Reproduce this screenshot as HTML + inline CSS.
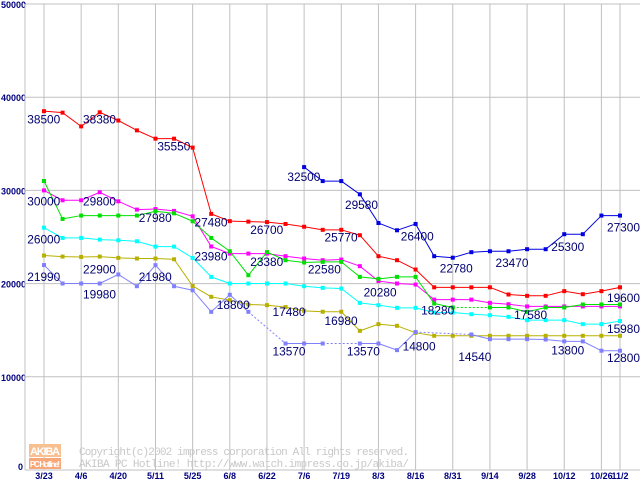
<!DOCTYPE html>
<html><head><meta charset="utf-8"><style>
body{margin:0;background:#fff;}
#c{position:absolute;left:0;top:0;}
</style></head><body>
<svg id="c" width="640" height="480" xmlns="http://www.w3.org/2000/svg" font-family="Liberation Sans, sans-serif">
<g id="grid"></g>
<g id="wm">
 <rect x="29" y="444" width="32" height="13" fill="#f8c090"/>
 <text x="30" y="455" font-size="11" font-weight="bold" fill="#fff" textLength="30">AKIBA</text>
 <rect x="29" y="458" width="32" height="11" fill="#f8a878"/>
 <text x="30" y="467" font-size="8" font-weight="bold" fill="#fff" textLength="30">PC Hotline!</text>
 <text x="79" y="455" font-size="11" fill="#c8c8c8" font-family="Liberation Mono, monospace" textLength="330">Copyright(c)2002 impress corporation All rights reserved.</text>
 <text x="79" y="467" font-size="11" fill="#c8c8c8" font-family="Liberation Mono, monospace" textLength="330">AKIBA PC Hotline!  http://www.watch.impress.co.jp/akiba/</text>
</g>
<g id="series"></g>
<g id="labels"></g>
</svg>
<script>
const xLabels=["3/23","4/6","4/20","5/11","5/25","6/8","6/22","7/6","7/19","8/3","8/16","8/31","9/14","9/28","10/12","10/26","11/2"];
const xLabelIdx=[0,2,4,6,8,10,12,14,16,18,20,22,24,26,28,30,31];
const yTicks=[0,10000,20000,30000,40000,50000];
const seriesColors=["#ff0000","#0000e0","#ff00ff","#00e000","#00ffff","#b8b000","#8080ff"];
const seriesNames=["red","blue","magenta","green","cyan","olive","lavender"];
const sRed=[38500,38340,36870,38380,37500,36440,35550,35550,34590,27480,26700,26650,26600,26400,26100,25770,25770,25190,22940,22510,21510,19600,19600,19600,19600,18830,18690,18690,19190,18860,19190,19600];
const sBlue=[null,null,null,null,null,null,null,null,null,null,null,null,null,null,32500,31000,31000,29580,26500,25720,26400,22940,22780,23370,23470,23470,23690,23690,25300,25300,27300,27300];
const sMagenta=[30000,28940,28940,29800,28830,27940,28000,27800,27220,23980,23220,23220,23220,22940,22690,22510,22580,21870,20280,20010,19900,18280,18280,18280,17930,17790,17550,17550,17550,17550,17550,17550];
const sGreen=[31010,26940,27300,27300,27300,27300,27760,27540,26690,24900,23470,20900,23380,22510,22260,22330,22330,20720,20510,20720,20720,17860,17440,null,17440,17440,16970,17440,17440,17760,17760,17760];
const sCyan=[26000,24900,24900,24720,24650,24540,23970,23970,22760,20720,20010,20010,20010,20010,19720,19540,19470,17930,17690,17400,17400,16900,16900,16720,16610,16430,16080,16080,16080,15650,15650,15980];
const sOlive=[23010,22900,22860,22900,22760,22690,22690,22610,19750,18580,18220,17760,17690,17480,17080,16980,16980,14930,15650,15470,14720,14400,14400,14400,14400,14400,14400,14400,14400,14400,14400,14400];
const sLav=[21990,20010,20010,20010,20980,19720,21980,19720,19290,16970,18800,16970,null,13570,13570,13570,null,13570,13570,12860,14800,null,null,14540,14040,14040,14040,14000,13800,13800,12800,12800];
const allSeries=[sRed,sBlue,sMagenta,sGreen,sCyan,sOlive,sLav];
const labelTexts=["38500","38380","35550","30000","29800","27980","27480","26000","22900","23980","26700","21990","21980","23380","32500","25770","22580","29580","20280","26400","19980","18800","17480","13570","16980","13570","14800","18280","14540","22780","23470","25300","27300","17580","19600","15980","13800","12800"];
const labelIdx=[-0.9,2.1,6.1,-0.9,2.1,5.1,8.1,-0.9,2.1,8.1,11.1,-0.9,5.1,11.1,13.1,15.1,14.2,16.2,17.2,19.2,2.1,9.3,12.3,12.3,15.1,16.3,19.3,20.3,22.3,21.3,24.3,27.3,30.3,25.3,30.3,30.3,27.3,30.3];
const labelVals=[37200,37200,34300,28400,28400,26600,26100,24300,21100,22500,25300,20300,20300,21900,31000,24500,21100,28000,18600,24600,18400,17300,16500,12300,15560,12300,12800,16700,11700,21200,21800,23500,25600,16200,18000,14700,12400,11600];
const X0=44,DX=18.58,Y0=470,YS=93.2/10000;
const sx=i=>X0+i*DX, sy=v=>Y0-v*YS;
const NS="http://www.w3.org/2000/svg";
function mk(t,a,p){const e=document.createElementNS(NS,t);for(const k in a)e.setAttribute(k,a[k]);p.appendChild(e);return e;}
const g=document.getElementById('grid');
yTicks.forEach(v=>{
 const l=mk('line',{x1:25,x2:640,y1:sy(v),y2:sy(v),stroke:'#c0c0c0','stroke-width':1},g);
 
 
 const t=mk('text',{x:v===0?18:1,y:sy(v)+(v===0?0:4),'font-size':9,'font-weight':'bold',fill:'#000080'},g);
 t.textContent=v;
 
 
});
const ax=mk('line',{x1:25,x2:25,y1:4,y2:470,stroke:'#c0c0c0','stroke-width':1},g);


xLabels.forEach((s,k)=>{
 const x=sx(xLabelIdx[k]);
 const l=mk('line',{x1:x,x2:x,y1:4,y2:470,stroke:'#c0c0c0','stroke-width':1},g);
 
 
 const t=mk('text',{x:x,y:479,'font-size':9,'font-weight':'bold',fill:'#000080','text-anchor':'middle'},g);
 t.textContent=s;
 
 
});
const sg=document.getElementById('series');
allSeries.forEach((d,si)=>{
 const c=seriesColors[si];
 let prev=-1,gap=false;
 for(let i=0;i<d.length;i++){
  if(d[i]==null){if(prev>=0)gap=true;continue;}
  if(prev>=0){
   const l=mk('line',{x1:sx(prev),y1:sy(d[prev]),x2:sx(i),y2:sy(d[i]),stroke:c,'stroke-width':1},sg);
   if(gap)l.setAttribute('stroke-dasharray','2,2');
   
   
  }
  prev=i;gap=false;
 }
 d.forEach((v,i)=>{
  if(v==null)return;
  const r=mk('rect',{x:sx(i)-2,y:sy(v)-2,width:4,height:4,fill:c},sg);
  
  
 });
});
const lg=document.getElementById('labels');
labelTexts.forEach((s,k)=>{
 const t=mk('text',{x:sx(labelIdx[k]),y:sy(labelVals[k]),'font-size':12,fill:'#000070',textLength:33,lengthAdjust:'spacingAndGlyphs'},lg);
 t.textContent=s;
 
 
});
</script>
</body></html>
